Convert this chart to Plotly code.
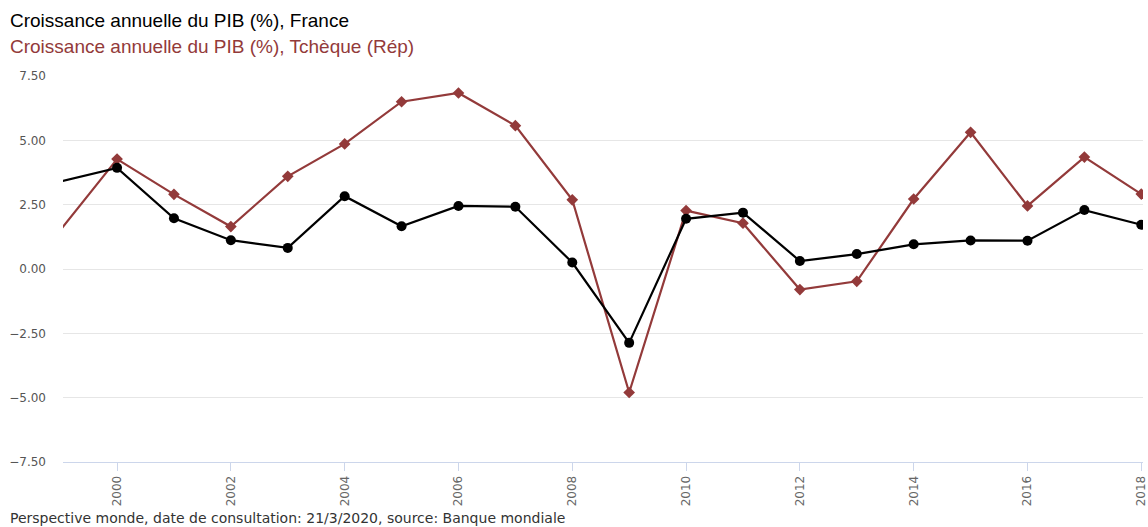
import plotly.graph_objects as go

years = list(range(1999, 2019))
france = [3.4, 3.93, 1.97, 1.12, 0.82, 2.83, 1.66, 2.45, 2.42, 0.25, -2.87, 1.95, 2.19, 0.31, 0.58, 0.96, 1.11, 1.10, 2.29, 1.72]
tcheque = [1.5, 4.27, 2.90, 1.65, 3.60, 4.86, 6.50, 6.84, 5.57, 2.69, -4.80, 2.27, 1.78, -0.80, -0.48, 2.72, 5.31, 2.45, 4.35, 2.91]
title_fr = "Croissance annuelle du PIB (%), France"
title_cz = "Croissance annuelle du PIB (%), Tchèque (Rép)"
source = "Perspective monde, date de consultation: 21/3/2020, source: Banque mondiale"

RED = "#933a3a"
W, H = 1148, 527
ml, mr, mt, mb = 63, 5, 76, 65
pw = W - ml - mr
ph = H - mt - mb

fr_sizes = [0] + [10] * (len(years) - 1)
cz_sizes = [0] + [9] * (len(years) - 1)

fig = go.Figure()
fig.add_trace(go.Scatter(x=years, y=tcheque, mode="lines+markers",
                         line=dict(color=RED, width=2.2),
                         marker=dict(symbol="diamond", size=cz_sizes, color=RED,
                                     opacity=1, line=dict(width=0)),
                         name=title_cz, showlegend=False))
fig.add_trace(go.Scatter(x=years, y=france, mode="lines+markers",
                         line=dict(color="#000000", width=2.2),
                         marker=dict(symbol="circle", size=fr_sizes, color="#000000",
                                     opacity=1, line=dict(width=0)),
                         name=title_fr, showlegend=False))

def px_x(x):
    return (x - ml) / pw

def px_y(y):
    return (H - mb - y) / ph

fig.update_layout(
    width=W, height=H,
    margin=dict(l=ml, r=mr, t=mt, b=mb, autoexpand=False),
    paper_bgcolor="white", plot_bgcolor="white",
    font=dict(family="DejaVu Sans", color="#666666", size=12),
    xaxis=dict(range=[1999.05, 2018.03], tickmode="array", tickvals=list(range(2000, 2019, 2)),
               ticktext=[str(y) for y in range(2000, 2019, 2)],
               tickangle=-90, showgrid=False, zeroline=False,
               showline=True, linecolor="#ccd6eb", linewidth=1,
               ticks="outside", ticklen=8, tickcolor="#ccd6eb",
               ticklabeloverflow="allow",
               tickfont=dict(family="DejaVu Sans", size=12, color="#666666")),
    yaxis=dict(range=[-7.5, 7.5], tickvals=[-7.5, -5, -2.5, 0, 2.5, 5, 7.5],
               tickformat=".2f", showgrid=True, gridcolor="#e6e6e6", gridwidth=1,
               zeroline=False, showline=False, ticklabelstandoff=16,
               tickfont=dict(family="DejaVu Sans", size=12, color="#555555")),
    annotations=[
        dict(text=title_fr, x=px_x(8), y=px_y(21), xref="paper", yref="paper",
             xanchor="left", yanchor="middle", showarrow=False,
             font=dict(family="Liberation Sans", size=19, color="#000000")),
        dict(text=title_cz, x=px_x(8), y=px_y(47), xref="paper", yref="paper",
             xanchor="left", yanchor="middle", showarrow=False,
             font=dict(family="Liberation Sans", size=19, color=RED)),
        dict(text=source, x=px_x(8), y=px_y(518), xref="paper", yref="paper",
             xanchor="left", yanchor="middle", showarrow=False,
             font=dict(family="DejaVu Sans", size=14, color="#333333")),
    ],
)

fig.write_html("out.html", config={"displayModeBar": False},
               post_script="document.body.style.margin='0';document.body.style.overflow='hidden';")
